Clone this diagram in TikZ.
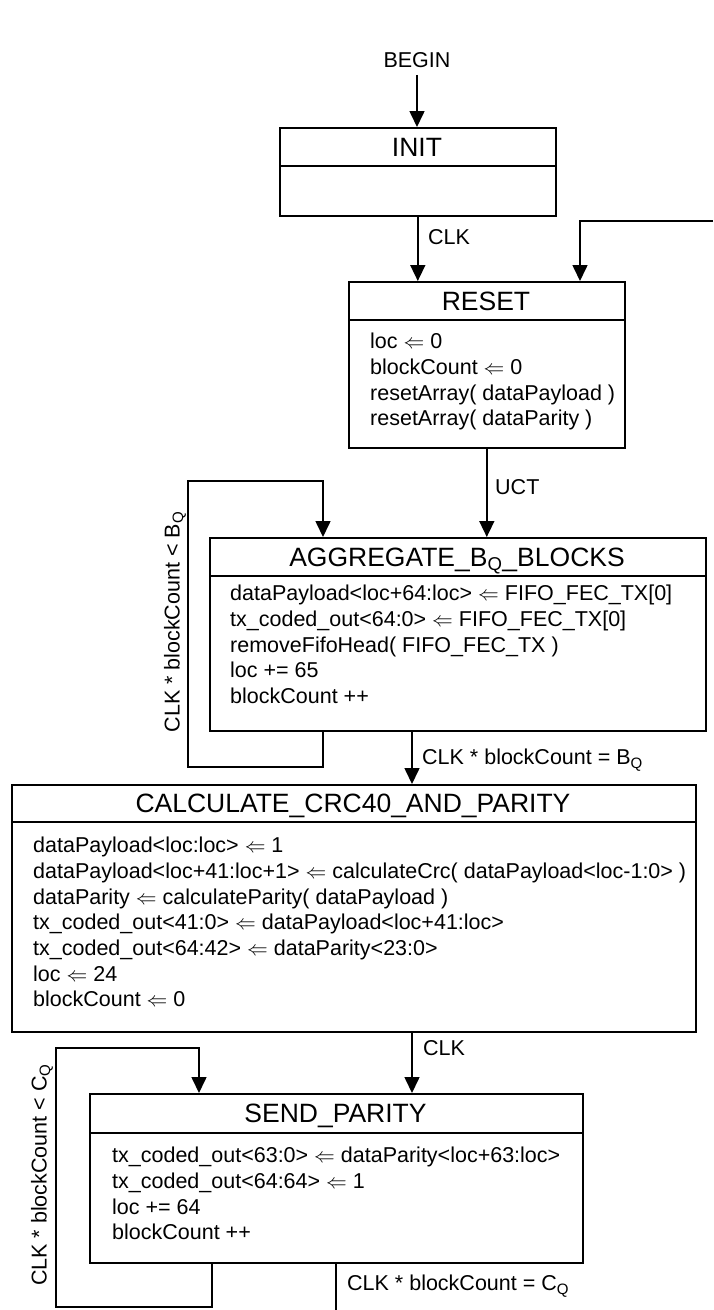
\documentclass[tikz,border=0pt]{standalone}
\usepackage{fontspec}
\setmainfont{Liberation Sans}
\usetikzlibrary{arrows.meta}
\newcommand\bodyfont{\fontsize{21.5}{25.7}\selectfont}
\newcommand\titlefont{\fontsize{26.5}{30}\selectfont}
\newcommand\la{$\Leftarrow$}
\begin{document}
\begin{tikzpicture}[x=1pt,y=-1pt,
  box/.style={draw, line width=1.6pt, inner sep=0pt, anchor=north west},
  ttl/.style={font=\titlefont, inner sep=0pt, text height=19pt, text depth=0pt},
  body/.style={font=\bodyfont, align=left, anchor=base west, inner sep=0pt},
  lbl/.style={font=\bodyfont, inner sep=0pt, text height=15.4pt, text depth=0pt},
  wire/.style={line width=1.6pt},
  arr/.style={wire, -{Triangle[length=16pt,width=15pt]}}]
\useasboundingbox (0,0) rectangle (713,1310);

% ---- boxes ----
\node[box, minimum width=276pt, minimum height=88pt]  (init)  at (279,127) {};
\node[box, minimum width=276pt, minimum height=166pt] (reset) at (348,281) {};
\node[box, minimum width=496pt, minimum height=193pt] (agg)   at (209,537) {};
\node[box, minimum width=684pt, minimum height=247pt] (calc)  at (11,784) {};
\node[box, minimum width=493pt, minimum height=169pt] (send)  at (89,1093) {};

% ---- dividers ----
\draw[wire] (init.west |- 0,166)  -- (init.east |- 0,166);
\draw[wire] (reset.west |- 0,320) -- (reset.east |- 0,320);
\draw[wire] (agg.west |- 0,576)   -- (agg.east |- 0,576);
\draw[wire] (calc.west |- 0,822)  -- (calc.east |- 0,822);
\draw[wire] (send.west |- 0,1133) -- (send.east |- 0,1133);

% ---- titles ----
\node[ttl] (initT)  at (417,146.5) {INIT};
\node[ttl] (resetT) at (486,300.5) {RESET};
\node[ttl] (aggT)   at (457,556.5) {AGGREGATE\_B\textsubscript{Q}\_BLOCKS};
\node[ttl] (calcT)  at (353,803)   {CALCULATE\_CRC40\_AND\_PARITY};
\node[ttl] (sendT)  at (335.5,1113){SEND\_PARITY};

% ---- bodies (anchor = baseline of the last line) ----
\node[body] (resetB) at (370,425.8) {loc \la{} 0\\blockCount \la{} 0\\resetArray( dataPayload )\\resetArray( dataParity )};
\node[body] (aggB) at (230,703.5) {dataPayload<loc+64:loc> \la{} FIFO\_FEC\_TX[0]\\tx\_coded\_out<64:0> \la{} FIFO\_FEC\_TX[0]\\removeFifoHead( FIFO\_FEC\_TX )\\loc += 65\\blockCount ++};
\node[body] (calcB) at (33,1006.9) {dataPayload<loc:loc> \la{} 1\\dataPayload<loc+41:loc+1> \la{} calculateCrc( dataPayload<loc-1:0> )\\dataParity \la{} calculateParity( dataPayload )\\tx\_coded\_out<41:0> \la{} dataPayload<loc+41:loc>\\tx\_coded\_out<64:42> \la{} dataParity<23:0>\\loc \la{} 24\\blockCount \la{} 0};
\node[body] (sendB) at (112,1239.8) {tx\_coded\_out<63:0> \la{} dataParity<loc+63:loc>\\tx\_coded\_out<64:64> \la{} 1\\loc += 64\\blockCount ++};

% ---- labels ----
\node[lbl] (begin) at (417,60) {BEGIN};
\node[lbl, anchor=west] (clkA) at (428,237) {CLK};
\node[lbl, anchor=west] (uct) at (495,487) {UCT};
\node[lbl, anchor=west] (eqB) at (422,757) {CLK * blockCount = B\textsubscript{Q}};
\node[lbl, anchor=west] (clkB) at (423,1048) {CLK};
\node[lbl, anchor=west] (eqC) at (347,1283) {CLK * blockCount = C\textsubscript{Q}};
\node[lbl, rotate=90] (ltB) at (172,622) {CLK * blockCount < B\textsubscript{Q}};
\node[lbl, rotate=90] (ltC) at (39,1175) {CLK * blockCount < C\textsubscript{Q}};

% ---- connector helpers ----
\coordinate (ext) at (713,221);
\coordinate (extturn) at (580,221);
\coordinate (la1) at (188,767);
\coordinate (la2) at (323,481);
\coordinate (mx) at (412,0);
\coordinate (lb1) at (56,1307);
\coordinate (lb2) at (199,1048);
\coordinate (lb3) at (212,0);
\coordinate (exitpt) at (336,1310);

% ---- connectors ----
\draw[arr] (begin.south) ++(0,7) -- (init.north -| begin.south);
\draw[arr] (init.south) -- (init.south |- reset.north);
\draw[arr] (ext) -- (extturn) -- (extturn |- reset.north);
\draw[arr] (reset.south) -- (reset.south |- agg.north);
\draw[arr] (agg.south -| la2) -- (la2 |- la1) -- (la1) -- (la1 |- la2) -- (la2) -- (agg.north -| la2);
\draw[arr] (agg.south -| mx) -- (calc.north -| mx);
\draw[arr] (calc.south -| mx) -- (send.north -| mx);
\draw[arr] (send.south -| lb3) -- (lb3 |- lb1) -- (lb1) -- (lb1 |- lb2) -- (lb2) -- (send.north -| lb2);
\draw[wire] (send.south -| exitpt) -- (exitpt);
\end{tikzpicture}
\end{document}
